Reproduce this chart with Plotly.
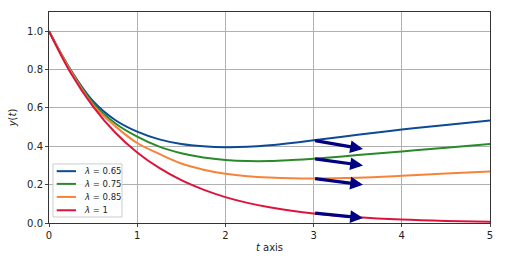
import plotly.graph_objects as go

t = [0, 0.25, 0.5, 0.75, 1, 1.25, 1.5, 1.75, 2, 2.25, 2.5, 2.75, 3, 3.5, 4, 4.5, 5]
y_065 = [1.0, 0.795, 0.635, 0.537, 0.476, 0.436, 0.412, 0.400, 0.395, 0.397, 0.405, 0.417, 0.431, 0.460, 0.487, 0.511, 0.534]
y_075 = [1.0, 0.792, 0.625, 0.520, 0.450, 0.398, 0.364, 0.342, 0.329, 0.323, 0.323, 0.328, 0.335, 0.354, 0.373, 0.392, 0.412]
y_085 = [1.0, 0.789, 0.615, 0.505, 0.417, 0.360, 0.310, 0.278, 0.257, 0.244, 0.237, 0.233, 0.232, 0.236, 0.246, 0.258, 0.269]
y_1 = [1.0, 0.779, 0.607, 0.472, 0.368, 0.287, 0.223, 0.174, 0.135, 0.105, 0.082, 0.064, 0.050, 0.030, 0.018, 0.011, 0.007]

labels = ["<i>λ</i> = 0.65", "<i>λ</i> = 0.75", "<i>λ</i> = 0.85", "<i>λ</i> = 1"]
colors = ["#0d4a96", "#2a8a2a", "#f5843a", "#dc143c"]

arrow_t0 = [3, 3, 3, 3]
arrow_y0 = [0.431, 0.335, 0.232, 0.052]
arrow_t1 = [3.56, 3.56, 3.56, 3.56]
arrow_y1 = [0.386, 0.300, 0.199, 0.026]

fig = go.Figure()
for ys, lab, col in zip([y_065, y_075, y_085, y_1], labels, colors):
    fig.add_trace(go.Scatter(x=t, y=ys, mode="lines", name=lab, showlegend=False,
                             line=dict(color=col, width=2, shape="spline", smoothing=1)))

for x0, y0, x1, y1 in zip(arrow_t0, arrow_y0, arrow_t1, arrow_y1):
    fig.add_annotation(x=x1, y=y1, ax=x0, ay=y0, xref="x", yref="y", axref="x", ayref="y",
                       showarrow=True, arrowhead=2, arrowsize=0.8, arrowwidth=3.2,
                       arrowcolor="#000080", text="")

# manual compact legend (lower-left, matplotlib style)
fig.add_shape(type="rect", xref="paper", yref="paper", x0=0.009, x1=0.1655, y0=0.0285, y1=0.280,
              fillcolor="rgba(255,255,255,0.85)", line=dict(color="#cccccc", width=1), layer="above")
legend_y = [0.2456, 0.1853, 0.1235, 0.0603]
for ly, lab, col in zip(legend_y, labels, colors):
    fig.add_shape(type="line", xref="paper", yref="paper", x0=0.0175, x1=0.0612, y0=ly, y1=ly,
                  line=dict(color=col, width=2), layer="above")
    fig.add_annotation(xref="paper", yref="paper", x=0.0741, y=ly, text=lab, showarrow=False,
                       xanchor="left", yanchor="middle", font=dict(size=8.5, color="#222"))

fig.update_layout(
    width=505, height=256, autosize=False,
    margin=dict(l=49, r=15, t=12, b=33),
    paper_bgcolor="white", plot_bgcolor="white",
    font=dict(family="DejaVu Sans", size=10, color="#222"),
    showlegend=False,
)
fig.update_xaxes(range=[0, 5], tickvals=[0, 1, 2, 3, 4, 5], showgrid=True, gridcolor="#b0b0b0",
                 gridwidth=1, showline=True, linecolor="#333", linewidth=1, mirror=True,
                 ticks="outside", ticklen=3, zeroline=False, automargin=False,
                 title=dict(text="<i>t</i> axis", standoff=3, font=dict(size=10)))
fig.update_yaxes(range=[0, 1.1], tickvals=[0, 0.2, 0.4, 0.6, 0.8, 1.0],
                 ticktext=["0.0", "0.2", "0.4", "0.6", "0.8", "1.0"],
                 showgrid=True, gridcolor="#b0b0b0", gridwidth=1, showline=True,
                 linecolor="#333", linewidth=1, mirror=True, ticks="outside", ticklen=3,
                 zeroline=False, automargin=False,
                 title=dict(text="<i>y</i>(<i>t</i>)", standoff=8, font=dict(size=10)))

fig.write_html("out.html", config={"displayModeBar": False, "responsive": False},
               post_script="document.body.style.margin='0';")
